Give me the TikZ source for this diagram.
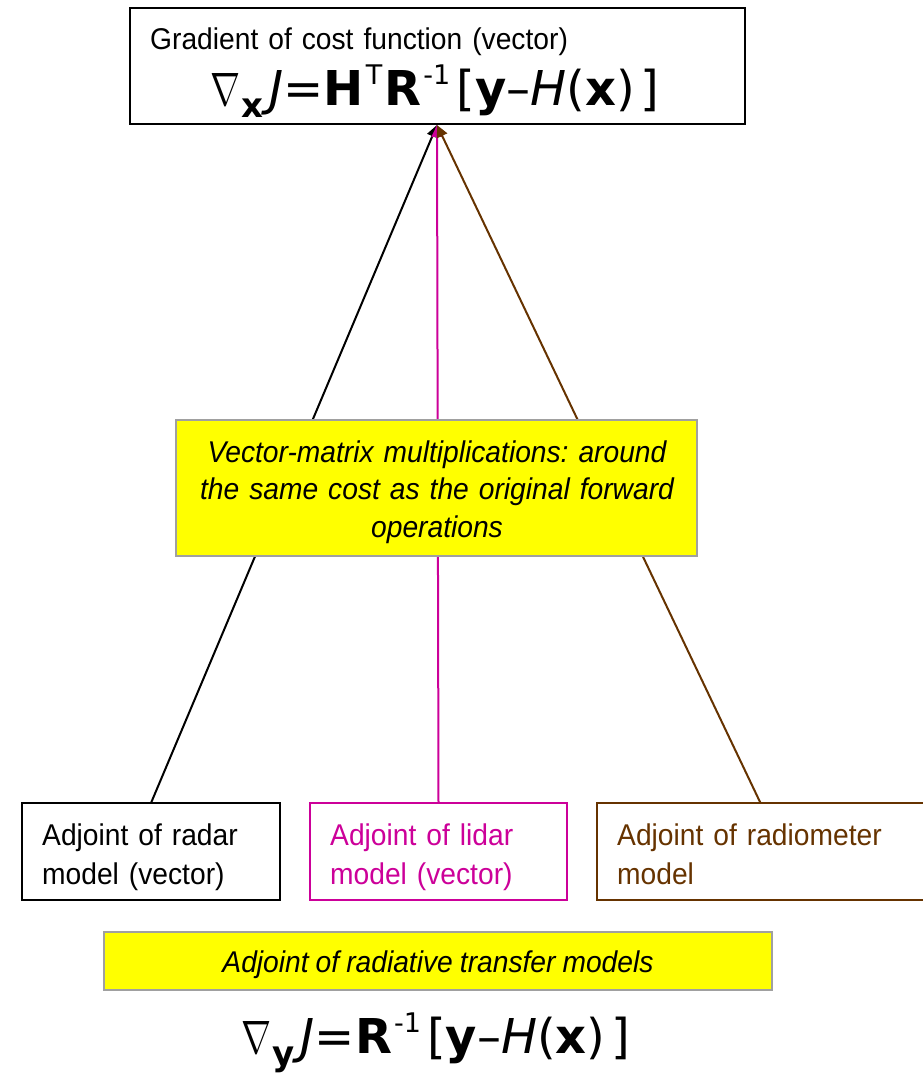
\documentclass[tikz,border=0pt]{standalone}
\usepackage{fontspec}
\usepackage{graphicx}
\setmainfont{Liberation Sans}[FakeStretch=0.94,WordSpace=0.9]
\newfontfamily\fdv{DejaVu Sans}
\usetikzlibrary{arrows.meta}
\frenchspacing
\definecolor{mag}{HTML}{CC0099}
\definecolor{brn}{HTML}{663300}
\definecolor{ybox}{HTML}{FFFF00}
\definecolor{gbrd}{HTML}{A0A0A0}
\newcommand{\lblfont}{\fontsize{30}{39.5}\selectfont}
\newcommand{\midfont}{\fontsize{30}{37.5}\selectfont}
\newcommand{\frm}{\fdv\fontsize{48}{52}\selectfont}
\newcommand{\nab}{\resizebox{30pt}{32pt}{$\nabla$}}
\newcommand{\frmsub}[1]{\kern1pt\raisebox{-0.27em}{\fontsize{34}{34}\selectfont\bfseries #1}\kern6pt}
\newcommand{\frmsup}[1]{\kern2pt\raisebox{0.42em}{\fontsize{27}{27}\selectfont #1}\kern2pt}
\begin{document}
\begin{tikzpicture}[x=1pt,y=-1pt,
  box/.style={draw, line width=2pt, inner sep=0pt, outer sep=0pt},
  ybx/.style={draw=gbrd, fill=ybox, line width=2pt, inner sep=0pt, outer sep=0pt},
  lbl/.style={inner sep=0pt, font=\lblfont, align=left, text width=#1, anchor=base west},
  lbl/.default=240pt,
  conn/.style={line width=2pt, -{Triangle[length=12pt,width=11pt]}}]
\useasboundingbox (0,0) rectangle (922,1077);
% top box
\node[box, minimum width=615pt, minimum height=116pt] (top) at (437.5,66) {};
\node[lbl=560pt] (toptxt) at (150,49) {Gradient of cost function (vector)};
\node[inner sep=0pt, anchor=base] (topfrm) at (435,105) {\frm \nab\frmsub{x}\textit{J}=\textbf{H}\frmsup{T}\textbf{R}\frmsup{-1}\kern4pt[\textbf{y}–\textit{H}(\textbf{x})\kern6pt]};
% bottom boxes
\node[box, minimum width=258pt, minimum height=97pt] (radar) at (151,851.5) {};
\node[box, draw=mag, minimum width=257pt, minimum height=97pt] (lidar) at (438.5,851.5) {};
\node[box, draw=brn, minimum width=327pt, minimum height=97pt] (radio) at (760.5,851.5) {};
\node[lbl] (radart) at (42,845) {Adjoint of radar\\model (vector)};
\node[lbl, text=mag] (lidart) at (330,845) {Adjoint of lidar\\model (vector)};
\node[lbl=300pt, text=brn] (radiot) at (617,845) {Adjoint of radiometer\\model};
% connectors
\coordinate (apex) at (437,125);
\draw[conn] (radar.north) -- (apex);
\draw[conn, mag] (lidar.north) -- (apex);
\draw[conn, brn] (radio.north) -- (apex);
% middle yellow box
\node[ybx, minimum width=521pt, minimum height=136pt] (mid) at (436.5,488) {};
\node[inner sep=0pt, font=\midfont\itshape, align=center, text width=500pt, anchor=base] (midt) at (437,462) {Vector-matrix multiplications: around\\the same cost as the original forward\\operations};
% bottom yellow box
\node[ybx, minimum width=668pt, minimum height=58pt] (rt) at (438,961) {};
\node[inner sep=0pt, font=\lblfont\itshape, anchor=base] (rtt) at (438,972) {Adjoint of radiative transfer models};
% bottom formula
\node[inner sep=0pt, anchor=base] (botfrm) at (436,1053) {\frm \nab\frmsub{y}\textit{J}=\textbf{R}\frmsup{-1}\kern4pt[\textbf{y}–\textit{H}(\textbf{x})\kern6pt]};
\end{tikzpicture}
\end{document}
